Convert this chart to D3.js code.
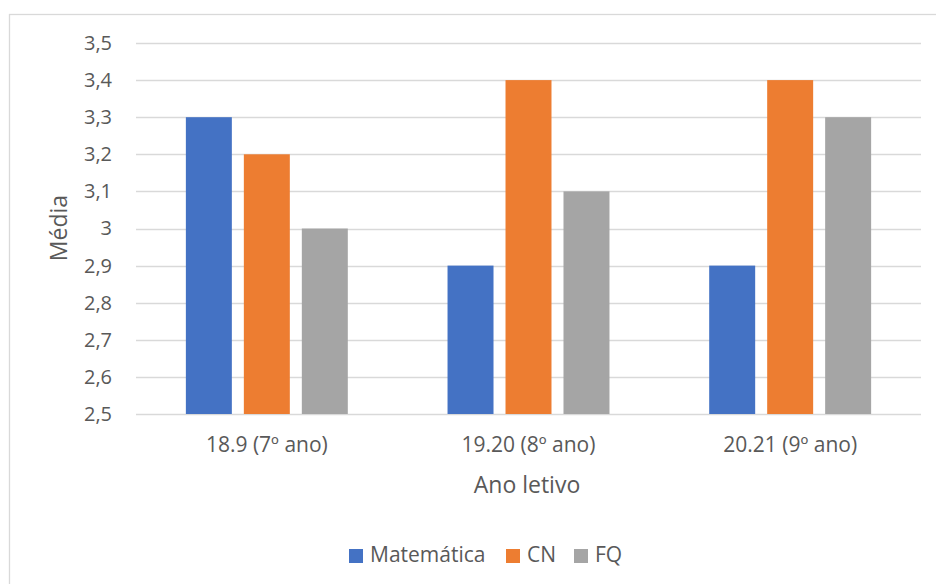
<!DOCTYPE html>
<html><head><meta charset="utf-8">
<script src="https://cdn.jsdelivr.net/npm/d3@7"></script>
<style>body{margin:0;background:#fff}svg{display:block;font-family:"Open Sans",sans-serif}</style>
</head><body>
<script>
const categories = ["18.9 (7º ano)", "19.20 (8º ano)", "20.21 (9º ano)"];
const seriesNames = ["Matemática", "CN", "FQ"];
const matematica = [3.3, 2.9, 2.9];
const cn = [3.2, 3.4, 3.4];
const fq = [3.0, 3.1, 3.3];
const yTicks = [2.5, 2.6, 2.7, 2.8, 2.9, 3.0, 3.1, 3.2, 3.3, 3.4, 3.5];
const colors = ["#4472C4", "#ED7D31", "#A5A5A5"];
const seriesValues = [matematica, cn, fq];

(function () {
const W = 936, H = 584;
const svg = d3.select("body").append("svg").attr("width", W).attr("height", H);
svg.append("rect").attr("x", 9.5).attr("y", 14.5).attr("width", 940).attr("height", 600)
  .attr("fill", "#fff").attr("stroke", "#D9D9D9").attr("stroke-width", 1.3);

const pLeft = 136, pRight = 921, pTop = 43, pBottom = 414;
const y = d3.scaleLinear().domain([2.5, 3.5]).range([pBottom, pTop]);
const x0 = d3.scaleBand().domain(categories).range([pLeft, pRight]);
const x1 = d3.scaleBand().domain(seriesNames).range([0, x0.bandwidth()]).paddingInner(0.207).paddingOuter(0.86);
const fmt = v => d3.format(".1f")(v).replace(".", ",").replace(",0", "");

svg.append("g").selectAll("line").data(yTicks).join("line")
  .attr("x1", pLeft).attr("x2", pRight)
  .attr("y1", d => Math.round(y(d)) + 0.5).attr("y2", d => Math.round(y(d)) + 0.5)
  .attr("stroke", "#D9D9D9").attr("stroke-width", 1.3);

const groups = svg.append("g").selectAll("g").data(categories).join("g")
  .attr("transform", c => `translate(${x0(c)},0)`);
groups.selectAll("rect").data((c, i) => seriesNames.map((s, j) => ({s, v: seriesValues[j][i], j})))
  .join("rect")
  .attr("x", d => x1(d.s)).attr("width", x1.bandwidth())
  .attr("y", d => y(d.v)).attr("height", d => y(2.5) - y(d.v))
  .attr("fill", d => colors[d.j]);

const yAxis = d3.axisLeft(y).tickValues(yTicks).tickFormat(fmt).tickSize(0).tickPadding(0);
const ya = svg.append("g").attr("transform", `translate(112,0)`).call(yAxis);
ya.select(".domain").remove();
ya.selectAll("text").attr("font-size", 20).attr("fill", "#595959").attr("font-family", '"Open Sans",sans-serif');

const xAxis = d3.axisBottom(x0).tickSize(0).tickPadding(0);
const xa = svg.append("g").attr("transform", `translate(0,452)`).call(xAxis);
xa.select(".domain").remove();
xa.selectAll("text").attr("dy", 0).attr("y", 0).attr("font-size", 21).attr("fill", "#595959").attr("font-family", '"Open Sans",sans-serif');

svg.append("text").attr("x", 527).attr("y", 493).attr("text-anchor", "middle")
  .attr("font-size", 23).attr("fill", "#595959").text("Ano letivo");
svg.append("text").attr("transform", "translate(67,228) rotate(-90)").attr("text-anchor", "middle")
  .attr("font-size", 23).attr("fill", "#595959").text("Média");

const legendX = [349, 506, 574];
const lg = svg.append("g").selectAll("g").data(seriesNames).join("g")
  .attr("transform", (d, i) => `translate(${legendX[i]},549)`);
lg.append("rect").attr("width", 14).attr("height", 14).attr("fill", (d, i) => colors[i]);
lg.append("text").attr("x", 21).attr("y", 13).attr("font-size", 21).attr("fill", "#595959").text(d => d);
})();
</script>
</body></html>
